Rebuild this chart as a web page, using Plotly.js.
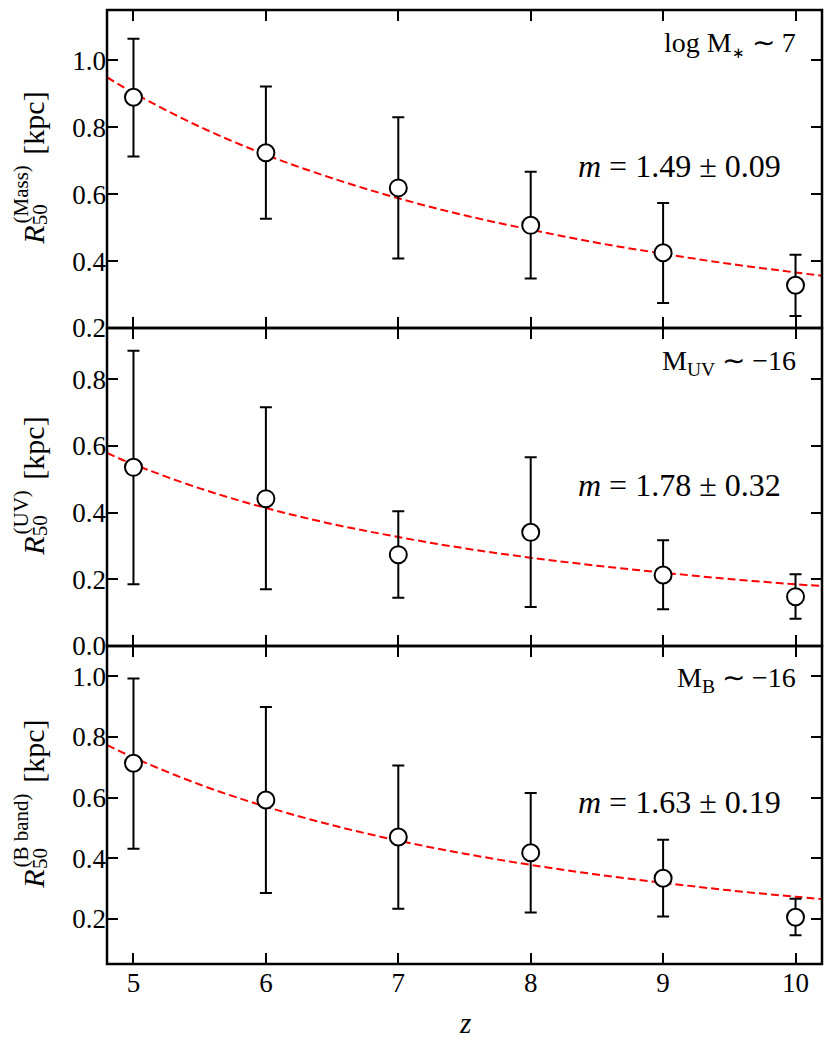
<!DOCTYPE html>
<html><head><meta charset="utf-8">
<script src="https://cdn.plot.ly/plotly-3.0.1.min.js"></script>
<style>html,body{margin:0;padding:0;background:#fff}#chart{width:830px;height:1038px}</style>
</head><body><div id="chart"></div>
<script>
// ---- data ----
const z = [5, 6, 7, 8, 9, 10];
const massR  = [0.890, 0.724, 0.619, 0.507, 0.425, 0.328];
const massHi = [1.065, 0.922, 0.830, 0.667, 0.574, 0.419];
const massLo = [0.713, 0.527, 0.408, 0.348, 0.275, 0.236];
const uvR  = [0.536, 0.442, 0.274, 0.341, 0.213, 0.148];
const uvHi = [0.886, 0.716, 0.404, 0.566, 0.317, 0.215];
const uvLo = [0.185, 0.170, 0.145, 0.117, 0.110, 0.082];
const bR  = [0.713, 0.592, 0.470, 0.418, 0.334, 0.205];
const bHi = [0.993, 0.899, 0.706, 0.615, 0.461, 0.266];
const bLo = [0.431, 0.285, 0.233, 0.221, 0.208, 0.146];
// dashed fit curves
const zFit    = [4.8, 5, 5.5, 6, 6.5, 7, 7.5, 8, 8.5, 9, 9.5, 10, 10.2];
const massFit = [0.950, 0.903, 0.802, 0.718, 0.648, 0.588, 0.537, 0.494, 0.455, 0.422, 0.392, 0.366, 0.356];
const uvFit   = [0.579, 0.545, 0.473, 0.414, 0.366, 0.327, 0.293, 0.265, 0.241, 0.220, 0.201, 0.185, 0.180];
const bFit    = [0.774, 0.732, 0.643, 0.570, 0.509, 0.458, 0.415, 0.378, 0.346, 0.319, 0.294, 0.273, 0.265];
const sampleLabels = ['log M<sub><span style="font-size:15px">∗</span></sub> ∼ 7', 'M<sub>UV</sub> ∼ −16', 'M<sub>B</sub> ∼ −16'];
const slopeLabels  = ['<i>m</i> = 1.49 ± 0.09', '<i>m</i> = 1.78 ± 0.32', '<i>m</i> = 1.63 ± 0.19'];
const yTitleSup = ['(Mass)', '(UV)', '(B band)'];
const xTicks = [5, 6, 7, 8, 9, 10];
const yTicks1 = [0.2, 0.4, 0.6, 0.8, 1.0];
const yTicks2 = [0.0, 0.2, 0.4, 0.6, 0.8];
const yTicks3 = [0.2, 0.4, 0.6, 0.8, 1.0];

// ---- build ----
const FONT = 'Liberation Serif, Times New Roman, serif';
const W = 830, H = 1038;
const M = {l: 107, r: 8, t: 10, b: 74};
const PW = W - M.l - M.r, PH = H - M.t - M.b;

const panels = [
  {R: massR, hi: massHi, lo: massLo, fit: massFit, range: [0.2, 1.151], ticks: yTicks1, domain: [2/3, 1], labY: 1.050, slopeY: 0.683},
  {R: uvR, hi: uvHi, lo: uvLo, fit: uvFit, range: [0.0, 0.954], ticks: yTicks2, domain: [1/3, 2/3], labY: 0.851, slopeY: 0.482},
  {R: bR, hi: bHi, lo: bLo, fit: bFit, range: [0.051, 1.100], ticks: yTicks3, domain: [0, 1/3], labY: 0.988, slopeY: 0.584}
];

const traces = [];
const annotations = [];
const shapes = [];
const layout = {
  width: W, height: H, margin: M, showlegend: false,
  paper_bgcolor: 'white', plot_bgcolor: 'white',
  font: {family: FONT, color: 'black', size: 27}
};
const axCommon = {
  showline: false, mirror: 'ticks',
  ticks: 'inside', ticklen: 11, tickwidth: 2, tickcolor: 'black',
  showgrid: false, zeroline: false,
  tickfont: {family: FONT, size: 27, color: 'black'}
};

// Times / Liberation Serif advance widths (em)
const EM = {'R_i': 0.611, '50': 1.0, '(Mass)': 2.777, '(UV)': 2.11, '(B band)': 3.527, '[kpc]': 2.11};
const px2x = px => (px - M.l) / PW;
const py2y = py => (M.t + PH - py) / PH;

panels.forEach((p, i) => {
  const n = i + 1;
  const xa = n === 1 ? 'x' : 'x' + n, ya = n === 1 ? 'y' : 'y' + n;
  traces.push({
    x: zFit, y: p.fit, xaxis: xa, yaxis: ya, mode: 'lines', type: 'scatter',
    line: {color: '#ff0000', width: 2, dash: '8px,4px', shape: 'spline'}, hoverinfo: 'skip'
  });
  traces.push({
    x: z, y: p.R, xaxis: xa, yaxis: ya, mode: 'markers', type: 'scatter',
    marker: {symbol: 'circle', size: 17, color: 'white', line: {color: 'black', width: 2}},
    error_y: {type: 'data', symmetric: false,
      array: p.hi.map((v, k) => v - p.R[k]), arrayminus: p.R.map((v, k) => v - p.lo[k]),
      color: 'black', thickness: 2, width: 6}
  });
  layout['xaxis' + (n === 1 ? '' : n)] = Object.assign({}, axCommon, {
    range: [4.8, 10.2], tickvals: xTicks, ticktext: xTicks.map(String), anchor: ya,
    showticklabels: n === 3, ...(n > 1 ? {matches: 'x'} : {})
  });
  layout['yaxis' + (n === 1 ? '' : n)] = Object.assign({}, axCommon, {
    range: p.range, tickvals: p.ticks, ticktext: p.ticks.map(v => v.toFixed(1)),
    domain: p.domain, anchor: xa
  });
  // panel frame
  shapes.push({type: 'rect', xref: 'paper', yref: 'paper', x0: 0, x1: 1, y0: p.domain[0], y1: p.domain[1],
    line: {color: 'black', width: 2.5}, fillcolor: 'rgba(0,0,0,0)', layer: 'above'});

  annotations.push({xref: xa, yref: ya, x: 10.02, y: p.labY, xanchor: 'right', yanchor: 'middle',
    text: sampleLabels[i], showarrow: false, font: {family: FONT, size: 28, color: 'black'}});
  annotations.push({xref: xa, yref: ya, x: 9.12, y: p.slopeY, xanchor: 'center', yanchor: 'middle',
    text: slopeLabels[i], showarrow: false, font: {family: FONT, size: 32, color: 'black'}});

  // rotated y title: R_50^(...) [kpc], sub and sup stacked
  const FS = 30, SS = 21;
  const wR = EM['R_i'] * FS + 2;
  const wSub = EM['50'] * SS, wSup = EM[yTitleSup[i]] * SS;
  const wStack = Math.max(wSub, wSup + 2);
  const gap = 10;
  const wK = EM['[kpc]'] * FS;
  const total = wR + wStack + gap + wK;
  const cy = M.t + PH * (1 - (p.domain[0] + p.domain[1]) / 2);
  const bottom = cy + total / 2;
  const pieces = [
    {text: '<i>R</i>', size: FS, cx: 34, cy: bottom - wR / 2},
    {text: '50', size: SS, cx: 40, cy: bottom - wR - wSub / 2},
    {text: yTitleSup[i], size: SS, cx: 21, cy: bottom - wR - 2 - wSup / 2},
    {text: '[kpc]', size: FS, cx: 34, cy: bottom - wR - wStack - gap - wK / 2}
  ];
  pieces.forEach(q => annotations.push({
    xref: 'paper', yref: 'paper', x: px2x(q.cx), y: py2y(q.cy), xanchor: 'center', yanchor: 'middle',
    textangle: -90, text: q.text, showarrow: false, font: {family: FONT, size: q.size, color: 'black'}
  }));
});

annotations.push({xref: 'paper', yref: 'paper', x: 0.5, y: py2y(1023), xanchor: 'center', yanchor: 'middle',
  text: '<i>z</i>', showarrow: false, font: {family: FONT, size: 29, color: 'black'}});
layout.annotations = annotations;
layout.shapes = shapes;

Plotly.newPlot('chart', traces, layout, {staticPlot: true, displayModeBar: false});
</script>
</body></html>
